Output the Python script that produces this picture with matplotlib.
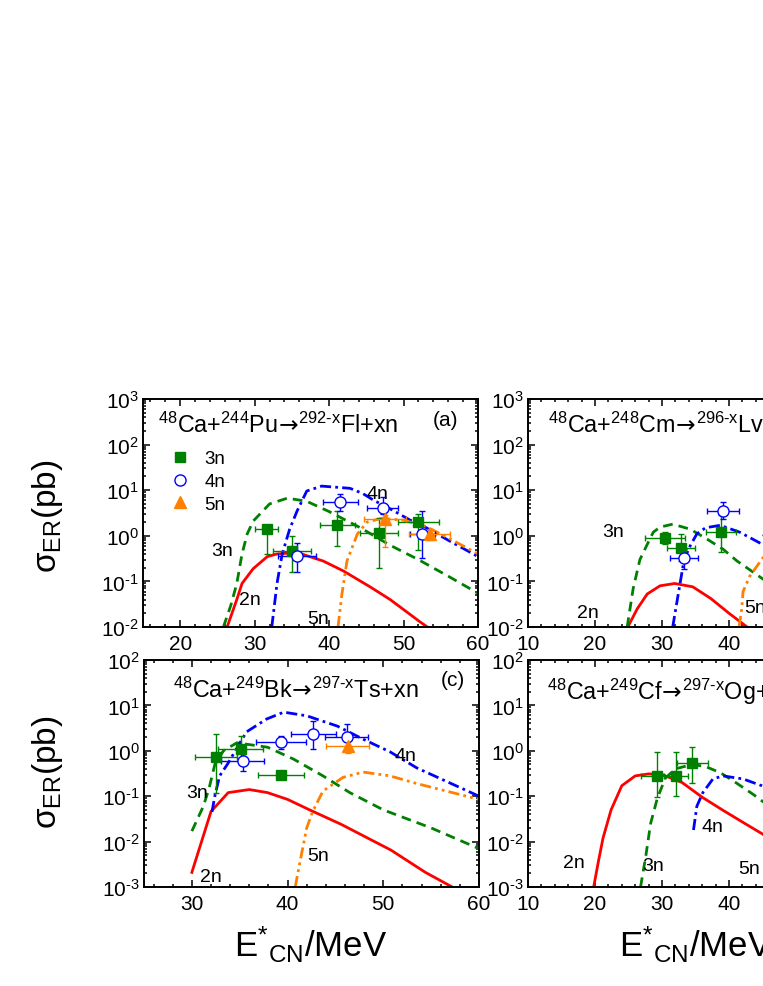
import numpy as np
import matplotlib
matplotlib.use("Agg")
import matplotlib.pyplot as plt
from matplotlib.ticker import MultipleLocator, LogLocator, FuncFormatter, NullFormatter
from matplotlib.lines import Line2D

plt.rcParams["font.family"] = ["Liberation Sans", "DejaVu Sans"]
plt.rcParams["mathtext.fontset"] = "custom"
plt.rcParams["mathtext.rm"] = "Liberation Sans"
plt.rcParams["mathtext.it"] = "Liberation Sans:italic"
plt.rcParams["mathtext.bf"] = "Liberation Sans:bold"
plt.rcParams["mathtext.sf"] = "DejaVu Sans"
plt.rcParams["axes.unicode_minus"] = False

GREEN, BLUE, RED, ORANGE = "#008000", "#0000ff", "#ff0000", "#ff8000"

# ── (a) 48Ca+244Pu ─────────────────────────────────────────────────────────────
pu_2n_e = [26.3, 27.6, 28.3, 29.8, 31.7, 33.0, 35.7, 39.2, 41.9, 45.5, 48.2, 52.2, 53.2]
pu_2n_s = [0.01, 0.04, 0.09, 0.19, 0.35, 0.40, 0.43, 0.28, 0.17, 0.076, 0.04, 0.013, 0.01]
pu_3n_e = [25.8, 26.8, 27.6, 28.3, 29.0, 29.8, 32.0, 34.4, 37.0, 40.0, 44.2, 48.2, 52.0, 56.0, 60.0]
pu_3n_s = [0.01, 0.03, 0.09, 0.4, 1.1, 2.1, 5.0, 6.7, 5.7, 3.4, 1.5, 0.62, 0.3, 0.13, 0.055]
pu_4n_e = [32.3, 33.0, 33.7, 34.7, 35.7, 37.0, 39.0, 42.8, 44.5, 46.0, 48.2, 50.9, 52.2, 56.0, 60.0]
pu_4n_s = [0.01, 0.09, 0.4, 1.4, 3.5, 9.6, 12.3, 11.0, 8.5, 6.0, 3.9, 2.2, 1.8, 0.8, 0.35]
pu_5n_e = [41.2, 41.7, 42.4, 43.8, 45.1, 47.0, 50.0, 53.0, 56.0, 60.0]
pu_5n_s = [0.01, 0.05, 0.28, 1.1, 2.0, 2.4, 2.2, 1.6, 0.9, 0.4]

pu_x3_e = [31.6, 35.0, 41.1, 46.7, 52.0]
pu_x3_s = [1.38, 0.47, 1.75, 1.15, 2.0]
pu_x3_ex = [1.5, 2.5, 2.35, 2.5, 2.7]
pu_x3_lo = [0.4, 0.16, 0.6, 0.2, 0.5]
pu_x3_hi = [1.7, 1.0, 3.5, 2.5, 3.0]
pu_x4_e = [35.7, 41.5, 47.2, 52.5]
pu_x4_s = [0.36, 5.5, 4.1, 1.1]
pu_x4_ex = [2.6, 2.35, 2.1, 1.7]
pu_x4_lo = [0.16, 3.5, 3.0, 0.32]
pu_x4_hi = [0.7, 8.3, 7.0, 3.5]
pu_x5_e = [47.5, 53.5]
pu_x5_s = [2.3, 1.1]
pu_x5_ex = [2.8, 2.8]
pu_x5_lo = [0.56, 0.8]
pu_x5_hi = [2.9, 1.4]

# ── (b) 48Ca+248Cm ─────────────────────────────────────────────────────────────
cm_2n_e = [24.9, 26.3, 27.8, 29.7, 31.9, 34.6, 37.3, 40.0, 42.7]
cm_2n_s = [0.01, 0.025, 0.053, 0.08, 0.09, 0.076, 0.042, 0.02, 0.01]
cm_3n_e = [24.8, 25.7, 26.7, 27.8, 28.7, 29.7, 31.6, 34.2, 36.7, 39.1, 41.2, 43.6, 46.0, 48.0]
cm_3n_s = [0.01, 0.07, 0.3, 0.65, 1.2, 1.55, 1.8, 1.4, 0.85, 0.51, 0.28, 0.16, 0.09, 0.05]
cm_4n_e = [31.6, 32.4, 33.3, 34.2, 35.2, 36.5, 38.7, 41.6, 44.9, 47.0]
cm_4n_s = [0.01, 0.05, 0.3, 0.6, 1.1, 1.5, 1.7, 1.2, 0.66, 0.4]
cm_5n_e = [41.5, 41.9, 42.1, 43.1, 45.0, 47.0]
cm_5n_s = [0.01, 0.025, 0.06, 0.13, 0.32, 0.6]

cm_x3_e = [30.4, 32.8, 38.8]
cm_x3_s = [0.88, 0.54, 1.2]
cm_x3_ex = [3.0, 2.1, 2.25]
cm_x3_lo = [0.65, 0.28, 0.44]
cm_x3_hi = [1.2, 1.1, 2.9]
cm_x4_e = [33.3, 39.1]
cm_x4_s = [0.32, 3.5]
cm_x4_ex = [2.1, 2.4]
cm_x4_lo = [0.19, 2.3]
cm_x4_hi = [0.51, 5.5]

# ── (c) 48Ca+249Bk ─────────────────────────────────────────────────────────────
bk_2n_e = [30.0, 32.0, 33.8, 36.0, 37.9, 40.0, 42.3, 45.6, 50.8, 54.4, 57.2]
bk_2n_s = [0.0021, 0.046, 0.12, 0.14, 0.12, 0.085, 0.05, 0.024, 0.0065, 0.0021, 0.001]
bk_3n_e = [30.0, 31.2, 31.8, 32.4, 33.3, 34.7, 37.9, 40.6, 43.7, 46.5, 50.0, 55.0, 60.0]
bk_3n_s = [0.017, 0.06, 0.15, 0.5, 1.0, 1.5, 1.2, 0.66, 0.28, 0.12, 0.05, 0.02, 0.007]
bk_4n_e = [32.1, 32.4, 32.9, 33.7, 35.7, 37.8, 39.6, 42.0, 45.2, 47.9, 50.7, 53.5, 60.0]
bk_4n_s = [0.045, 0.1, 0.28, 0.5, 2.6, 5.0, 7.1, 5.9, 3.5, 1.8, 0.95, 0.42, 0.1]
bk_5n_e = [40.8, 41.3, 42.0, 42.6, 43.7, 45.8, 47.9, 50.7, 53.5, 60.0]
bk_5n_s = [0.001, 0.0036, 0.02, 0.045, 0.13, 0.26, 0.34, 0.28, 0.19, 0.085]

bk_x3_e = [32.5, 35.1, 39.3]
bk_x3_s = [0.72, 1.1, 0.3]
bk_x3_ex = [2.2, 2.35, 2.4]
bk_x3_lo = [0.12, 0.56, 0.26]
bk_x3_hi = [2.3, 2.1, 0.36]
bk_x4_e = [35.3, 39.3, 42.7, 46.2]
bk_x4_s = [0.6, 1.55, 2.4, 2.0]
bk_x4_ex = [2.25, 2.6, 2.35, 2.25]
bk_x4_lo = [0.36, 1.1, 1.1, 1.0]
bk_x4_hi = [0.85, 2.1, 4.6, 3.9]
bk_x5_e = [46.3]
bk_x5_s = [1.25]
bk_x5_ex = [2.25]
bk_x5_lo = [0.9]
bk_x5_hi = [1.7]

# ── (d) 48Ca+249Cf ─────────────────────────────────────────────────────────────
cf_2n_e = [19.8, 20.5, 21.2, 22.4, 24.0, 26.0, 28.0, 30.0, 33.0, 36.0, 39.0, 42.0, 46.0, 50.0]
cf_2n_s = [0.001, 0.0036, 0.012, 0.05, 0.17, 0.28, 0.31, 0.3, 0.2, 0.095, 0.05, 0.027, 0.012, 0.005]
cf_3n_e = [26.8, 27.6, 28.3, 29.3, 30.5, 32.0, 34.5, 36.5, 38.7, 41.0, 43.6, 46.0]
cf_3n_s = [0.001, 0.005, 0.025, 0.09, 0.25, 0.4, 0.5, 0.45, 0.33, 0.2, 0.11, 0.06]
cf_4n_e = [34.7, 35.2, 36.1, 37.6, 39.1, 42.1, 44.9, 48.0]
cf_4n_s = [0.018, 0.06, 0.12, 0.24, 0.28, 0.24, 0.17, 0.1]
cf_5n_e = [45.8, 46.5, 47.5, 49.0]
cf_5n_s = [0.001, 0.002, 0.006, 0.02]

cf_x3_e = [29.3, 32.1, 34.5]
cf_x3_s = [0.28, 0.28, 0.54]
cf_x3_ex = [2.5, 1.8, 2.3]
cf_x3_lo = [0.095, 0.1, 0.2]
cf_x3_hi = [0.93, 0.93, 1.2]

ARROW = r"$\!\mathsf{\rightarrow}\!$"
TITLES = [r"$^{48}$Ca+$^{244}$Pu" + ARROW + r"$^{\text{292-x}}$Fl+xn",
          r"$^{48}$Ca+$^{248}$Cm" + ARROW + r"$^{\text{296-x}}$Lv+xn",
          r"$^{48}$Ca+$^{249}$Bk" + ARROW + r"$^{\text{297-x}}$Ts+xn",
          r"$^{48}$Ca+$^{249}$Cf" + ARROW + r"$^{\text{297-x}}$Og+xn"]

W, H = 763, 987
fig = plt.figure(figsize=(W / 100, H / 100), dpi=100)


def px_axes(left, top, width, height):
    return fig.add_axes([left / W, 1 - (top + height) / H, width / W, height / H])


def log_label(v, pos):
    e = int(round(np.log10(v)))
    return r"10$^{\text{%d}}$" % e


def style(ax, xlim, ylim):
    ax.set_yscale("log")
    ax.set_xlim(*xlim)
    ax.set_ylim(*ylim)
    ax.xaxis.set_major_locator(MultipleLocator(10))
    ax.xaxis.set_minor_locator(MultipleLocator(2))
    ax.yaxis.set_major_locator(LogLocator(base=10, numticks=20))
    ax.yaxis.set_minor_locator(LogLocator(base=10, subs=np.arange(2, 10), numticks=20))
    ax.yaxis.set_major_formatter(FuncFormatter(log_label))
    ax.yaxis.set_minor_formatter(NullFormatter())
    ax.tick_params(which="both", direction="in", top=True, right=True, width=1.1)
    ax.tick_params(which="major", length=5, labelsize=15)
    ax.tick_params(which="minor", length=2.5)
    ax.tick_params(axis="x", pad=5)
    ax.tick_params(axis="y", pad=3)
    for sp in ax.spines.values():
        sp.set_linewidth(1.4)


def curves(ax, c2, c3, c4, c5):
    ax.plot(*c2, color=RED, lw=2.0)
    ax.plot(*c3, color=GREEN, lw=2.0, ls=(0, (3.5, 2.2)))
    ax.plot(*c4, color=BLUE, lw=2.0, ls=(0, (4, 1.5, 1, 1.5)))
    ax.plot(*c5, color=ORANGE, lw=2.0, ls=(0, (4, 1.5, 1, 1.5, 1, 1.5)))


def points(ax, e, s, ex, lo, hi, kind):
    s = np.array(s)
    yerr = [s - np.array(lo), np.array(hi) - s]
    kw = dict(capsize=2.5, elinewidth=1.0, capthick=1.0, zorder=5, ls="none")
    if kind == "3n":
        ax.errorbar(e, s, xerr=ex, yerr=yerr, fmt="s", color=GREEN, ms=7, **kw)
    elif kind == "4n":
        ax.errorbar(e, s, xerr=ex, yerr=yerr, fmt="o", color=BLUE, mfc="white",
                    mec=BLUE, mew=1.0, ms=8, **kw)
    else:
        ax.errorbar(e, s, xerr=ex, yerr=yerr, fmt="^", color=ORANGE, ms=8.5, **kw)


ax_a = px_axes(143, 400, 335, 228)
ax_b = px_axes(528, 400, 335, 228)
ax_c = px_axes(144, 661, 335, 227)
ax_d = px_axes(528, 661, 335, 227)

style(ax_a, (15, 60), (1e-2, 1e3))
style(ax_b, (10, 60), (1e-2, 1e3))
style(ax_c, (25, 60), (1e-3, 1e2))
style(ax_d, (10, 60), (1e-3, 1e2))

TFS = 16.8

# (a)
curves(ax_a, (pu_2n_e, pu_2n_s), (pu_3n_e, pu_3n_s), (pu_4n_e, pu_4n_s), (pu_5n_e, pu_5n_s))
points(ax_a, pu_x3_e, pu_x3_s, pu_x3_ex, pu_x3_lo, pu_x3_hi, "3n")
points(ax_a, pu_x4_e, pu_x4_s, pu_x4_ex, pu_x4_lo, pu_x4_hi, "4n")
points(ax_a, pu_x5_e, pu_x5_s, pu_x5_ex, pu_x5_lo, pu_x5_hi, "5n")
ax_a.text(17.0, 190, TITLES[0], fontsize=TFS, va="baseline")
ax_a.text(55.6, 360, "(a)", fontsize=15, ha="center", va="center")
ax_a.text(25.6, 0.47, "3n", fontsize=14, ha="center", va="center")
ax_a.text(29.4, 0.041, "2n", fontsize=14, ha="center", va="center")
ax_a.text(46.5, 8.3, "4n", fontsize=14, ha="center", va="center")
ax_a.text(38.5, 0.015, "5n", fontsize=14, ha="center", va="center")
handles = [Line2D([], [], ls="none", marker="s", color=GREEN, ms=7),
           Line2D([], [], ls="none", marker="o", mfc="white", mec=BLUE, ms=8),
           Line2D([], [], ls="none", marker="^", color=ORANGE, ms=8.5)]
ax_a.legend(handles, ["3n", "4n", "5n"], loc="upper left", bbox_to_anchor=(0.082, 0.775),
            frameon=False, fontsize=13.5, handlelength=1.0, handletextpad=0.8,
            labelspacing=0.3, borderpad=0, borderaxespad=0)

# (b)
curves(ax_b, (cm_2n_e, cm_2n_s), (cm_3n_e, cm_3n_s), (cm_4n_e, cm_4n_s), (cm_5n_e, cm_5n_s))
points(ax_b, cm_x3_e, cm_x3_s, cm_x3_ex, cm_x3_lo, cm_x3_hi, "3n")
points(ax_b, cm_x4_e, cm_x4_s, cm_x4_ex, cm_x4_lo, cm_x4_hi, "4n")
ax_b.text(13.0, 190, TITLES[1], fontsize=TFS, va="baseline")
ax_b.text(22.7, 1.26, "3n", fontsize=14, ha="center", va="center")
ax_b.text(19.0, 0.021, "2n", fontsize=14, ha="center", va="center")
ax_b.text(42.2, 0.027, "5n", fontsize=14, ha="left", va="center")
ax_b.text(44.9, 1.1, "4n", fontsize=14, ha="left", va="center")

# (c)
curves(ax_c, (bk_2n_e, bk_2n_s), (bk_3n_e, bk_3n_s), (bk_4n_e, bk_4n_s), (bk_5n_e, bk_5n_s))
points(ax_c, bk_x3_e, bk_x3_s, bk_x3_ex, bk_x3_lo, bk_x3_hi, "3n")
points(ax_c, bk_x4_e, bk_x4_s, bk_x4_ex, bk_x4_lo, bk_x4_hi, "4n")
points(ax_c, bk_x5_e, bk_x5_s, bk_x5_ex, bk_x5_lo, bk_x5_hi, "5n")
ax_c.text(28.0, 15.6, TITLES[2], fontsize=TFS, va="baseline")
ax_c.text(57.3, 38, "(c)", fontsize=15, ha="center", va="center")
ax_c.text(30.5, 0.12, "3n", fontsize=14, ha="center", va="center")
ax_c.text(32.0, 0.0017, "2n", fontsize=14, ha="center", va="center")
ax_c.text(43.2, 0.005, "5n", fontsize=14, ha="center", va="center")
ax_c.text(52.3, 0.77, "4n", fontsize=14, ha="center", va="center")

# (d)
curves(ax_d, (cf_2n_e, cf_2n_s), (cf_3n_e, cf_3n_s), (cf_4n_e, cf_4n_s), (cf_5n_e, cf_5n_s))
points(ax_d, cf_x3_e, cf_x3_s, cf_x3_ex, cf_x3_lo, cf_x3_hi, "3n")
ax_d.text(12.8, 13.8, TITLES[3], fontsize=TFS, va="baseline")
ax_d.text(16.8, 0.0035, "2n", fontsize=14, ha="center", va="center")
ax_d.text(28.7, 0.003, "3n", fontsize=14, ha="center", va="center")
ax_d.text(37.5, 0.021, "4n", fontsize=14, ha="center", va="center")
ax_d.text(43.0, 0.0025, "5n", fontsize=14, ha="center", va="center")

# axis titles
ylab = r"σ$_{\rm ER}$(pb)"
fig.text(48 / W, 1 - 516 / H, ylab, fontsize=24, rotation=90, ha="center", va="center")
fig.text(48 / W, 1 - 772 / H, ylab, fontsize=24, rotation=90, ha="center", va="center")
xlab = r"E$^{*}$$_{\rm CN}$/MeV"
fig.text(311 / W, 1 - 957 / H, xlab, fontsize=25, ha="center", va="baseline")
fig.text(696 / W, 1 - 957 / H, xlab, fontsize=25, ha="center", va="baseline")

fig.savefig("out.png", dpi=100)
